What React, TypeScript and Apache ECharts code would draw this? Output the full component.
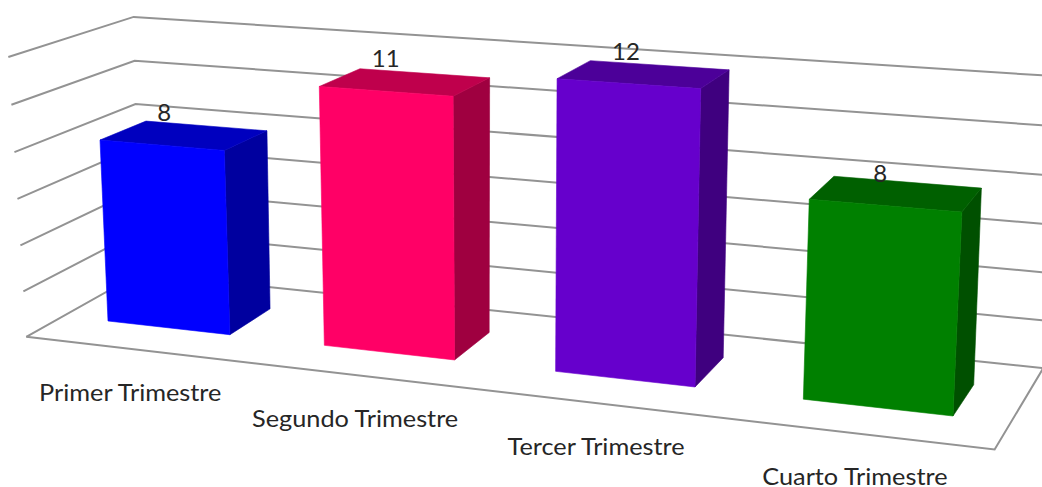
import React, { useEffect, useRef } from "react";
import * as echarts from "echarts";

const categories = ["Primer Trimestre", "Segundo Trimestre", "Tercer Trimestre", "Cuarto Trimestre"];
const values = [8, 11, 12, 8];
const valueTicks = [0, 2, 4, 6, 8, 10, 12];
const AXIS_MAX = 12;

const frontColors = ["#0000FF", "#FF0066", "#6600CC", "#008000"];
const topColors = ["#0000BF", "#BF004C", "#4C0099", "#006000"];
const sideColors = ["#00009F", "#9F0040", "#3F007F", "#005000"];

const WIDTH = 1042;
const HEIGHT = 487;

// Camera: a perspective projection of (u along categories, v along depth, t along values).
const FLOOR = { o: [108, 321], u: [953, 416], v: [151, 296], h: 0.03 };
const CEIL = { o: [95.9, 46.8], u: [966.5, 107], v: [143.4, 31], h: 0.0366 };
const PERSP_U = -0.115;
const PERSP_T = 0.03;
const U_START = -0.06;
const U_SPAN = 1.12;
const DEPTH_FRONT = -0.8;
const DEPTH_BACK = 1.76;
const BAR_SHARE = 1 / 1.75;

type Pt = [number, number];

function planePoint(p: { o: number[]; u: number[]; v: number[]; h: number }, u: number, v: number): Pt {
  const d = 1 + PERSP_U * u + p.h * v;
  const one = (i: number) =>
    (p.o[i] + u * (p.u[i] * (1 + PERSP_U) - p.o[i]) + v * (p.v[i] * (1 + p.h) - p.o[i])) / d;
  return [one(0), one(1)];
}

function project(u: number, v: number, t: number): Pt {
  const a = planePoint(FLOOR, u, v);
  const b = planePoint(CEIL, u, v);
  const f = t / (1 + PERSP_T * (1 - t));
  return [a[0] + (b[0] - a[0]) * f, a[1] + (b[1] - a[1]) * f];
}

const toU = (x: number, cs: any) => U_START + ((x - cs.x) / cs.width) * U_SPAN;
const toT = (y: number, cs: any) => (cs.y + cs.height - y) / cs.height;

const FONT = "Lato, Carlito, 'Noto Sans', sans-serif";

export default function App() {
  const ref = useRef<HTMLDivElement>(null);

  useEffect(() => {
    document.body.style.margin = "0";
    document.body.style.background = "#ffffff";
    const chart = echarts.init(ref.current!, null, { renderer: "svg" });

    const renderFrame = (params: any, api: any) => {
      const cs = params.coordSys;
      const t = toT(api.coord([0, api.value(0)])[1], cs);
      const uA = toU(cs.x, cs);
      const uB = toU(cs.x + cs.width, cs);
      const lineStyle = { stroke: "#939393", lineWidth: 2, fill: "none" };
      const children: any[] = [
        {
          type: "polyline",
          shape: { points: [project(uA, DEPTH_FRONT, t), project(uA, DEPTH_BACK, t), project(uB, DEPTH_BACK, t)] },
          style: lineStyle,
        },
      ];
      if (t === 0) {
        children.push({
          type: "polyline",
          shape: { points: [project(uA, DEPTH_FRONT, 0), project(uB, DEPTH_FRONT, 0), project(uB, DEPTH_BACK, 0)] },
          style: lineStyle,
        });
      }
      return { type: "group", children };
    };

    const renderBar = (params: any, api: any) => {
      const cs = params.coordSys;
      const idx = api.value(0);
      const top = api.coord([idx, api.value(1)]);
      const base = api.coord([idx, 0]);
      const half = (api.size([1, 0])[0] * BAR_SHARE) / 2;
      const u0 = toU(top[0] - half, cs);
      const u1 = toU(top[0] + half, cs);
      const uc = toU(top[0], cs);
      const tTop = toT(top[1], cs);
      const tBase = toT(base[1], cs);
      const front = [project(u0, 0, tBase), project(u1, 0, tBase), project(u1, 0, tTop), project(u0, 0, tTop)];
      const side = [project(u1, 0, tBase), project(u1, 1, tBase), project(u1, 1, tTop), project(u1, 0, tTop)];
      const cap = [project(u0, 0, tTop), project(u1, 0, tTop), project(u1, 1, tTop), project(u0, 1, tTop)];
      const labelAt = project(uc, 0, tTop);
      const catAt = project(uc, DEPTH_FRONT, 0);
      const face = (c: string) => ({ fill: c, stroke: c, lineWidth: 0.6 });
      return {
        type: "group",
        children: [
          { type: "polygon", shape: { points: side }, style: face(sideColors[idx]) },
          { type: "polygon", shape: { points: cap }, style: face(topColors[idx]) },
          { type: "polygon", shape: { points: front }, style: face(frontColors[idx]) },
          {
            type: "text",
            style: {
              text: String(api.value(1)),
              x: labelAt[0] - 1 + (0.5 - uc) * 8.5,
              y: labelAt[1] - 33.5,
              align: "center",
              verticalAlign: "middle",
              fontSize: 24,
              fontFamily: FONT,
              fill: "#262626",
            },
          },
          {
            type: "text",
            x: catAt[0] - 3,
            y: catAt[1] + 42.5,
            scaleX: 1.1,
            style: {
              text: categories[idx],
              x: 0,
              y: 0,
              align: "center",
              verticalAlign: "middle",
              fontSize: 23,
              lineHeight: 19,
              fontFamily: FONT,
              fill: "#262626",
            },
          },
        ],
      };
    };

    chart.setOption({
      animation: false,
      backgroundColor: "#ffffff",
      grid: { left: 0, right: 0, top: 0, bottom: 0 },
      xAxis: { type: "category", data: categories, show: false },
      yAxis: { type: "value", min: 0, max: AXIS_MAX, interval: 2, show: false },
      series: [
        {
          type: "custom",
          renderItem: renderFrame,
          data: valueTicks.map((v) => [v]),
          encode: { y: 0 },
          silent: true,
          z: 1,
        },
        {
          type: "custom",
          renderItem: renderBar,
          data: values.map((v, i) => [i, v]),
          encode: { x: 0, y: 1 },
          silent: true,
          z: 2,
        },
      ],
    });

    return () => chart.dispose();
  }, []);

  return <div ref={ref} style={{ width: WIDTH, height: HEIGHT, overflow: "hidden" }} />;
}
